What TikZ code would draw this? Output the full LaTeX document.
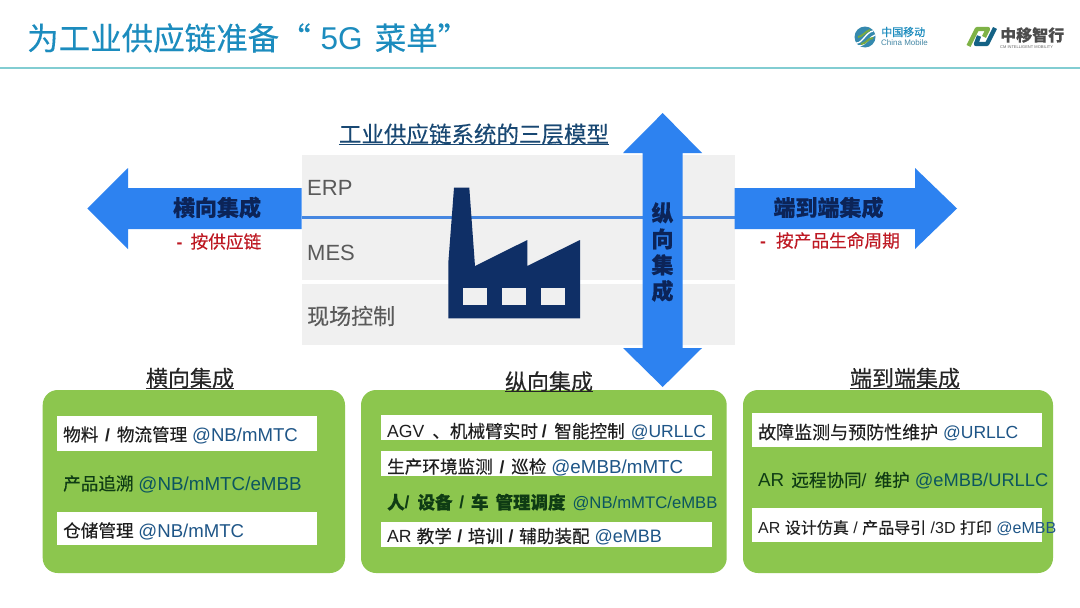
\documentclass[tikz,border=0pt]{standalone}
\usepackage{fontspec}
\setmainfont{Liberation Sans}
\newfontfamily\cjk[FakeBold=0.25]{Noto Sans CJK SC}
\usetikzlibrary{calc}
\definecolor{TitleBlue}{RGB}{28,140,190}
\definecolor{RuleTeal}{RGB}{130,205,210}
\definecolor{ArrowBlue}{RGB}{45,130,240}
\definecolor{LineBlue}{RGB}{70,135,225}
\definecolor{FactoryBlue}{RGB}{15,47,102}
\definecolor{DarkBlue}{RGB}{12,36,88}
\definecolor{BandGray}{RGB}{240,240,240}
\definecolor{LabelGray}{RGB}{90,90,90}
\definecolor{PanelGreen}{RGB}{140,198,78}
\definecolor{NetBlue}{RGB}{30,85,135}
\definecolor{NetTeal}{RGB}{12,85,95}
\definecolor{RowGreen}{RGB}{15,60,20}
\definecolor{AlarmRed}{RGB}{190,25,35}
\newcommand{\zh}[1]{{\cjk #1}}
\newcommand{\net}[2][17.5]{{\fontsize{#1}{20}\selectfont\textcolor{NetBlue}{#2}}}
\newcommand{\nettl}[2][18.8]{{\fontsize{#1}{20}\selectfont\textcolor{NetTeal}{#2}}}
\newcommand{\sep}{\hspace{6.8pt}\textbf{/}\hspace{6.8pt}}
\newcommand{\sepn}{\hspace{5.6pt}\textbf{/}\hspace{5.6pt}}

\begin{document}
\begin{tikzpicture}[
    x=1pt, y=-1pt,
    band/.style={fill=BandGray, draw=none},
    bigarrow/.style={fill=ArrowBlue, draw=none},
    panel/.style={fill=PanelGreen, draw=none, rounded corners=15pt},
    rowbar/.style={fill=white, draw=none},
    rowtext/.style={anchor=west, inner sep=0pt, text=black!88, font=\fontsize{17.6}{20}\selectfont},
    greenrow/.style={rowtext, text=RowGreen},
    layer/.style={anchor=west, inner sep=0pt, text=LabelGray, font=\fontsize{22}{26}\selectfont},
    head/.style={inner sep=0pt, text=black!85, font=\fontsize{22}{26}\selectfont},
    arrowtext/.style={inner sep=0pt, text=DarkBlue, font=\fontsize{22}{26}\selectfont\bfseries},
    note/.style={inner sep=0pt, text=AlarmRed, font=\fontsize{17.7}{20}\selectfont},
]
\useasboundingbox (0,0) rectangle (1080,608);
\fill[white] (0,0) rectangle (1080,608);

% --- cabecera ---
\node[anchor=west, inner sep=0pt, text=TitleBlue, font=\fontsize{31.5}{34}\selectfont] (title) at (27,38)
    {\zh{为工业供应链准备“}\hspace{10pt}5G\hspace{12pt}\zh{菜单”}};
\draw[RuleTeal, line width=1.4pt] (0,68) -- (1080,68);

% logo China Mobile
\fill[TitleBlue!75!gray] (865,37) circle (10.5);
\draw[white, line width=1.3pt] (856,43) .. controls (862,44) and (866,32) .. (873,31);
\draw[white, line width=1.3pt] (858,46) .. controls (866,46) and (870,36) .. (875,35);
\draw[PanelGreen!85!black, line width=2pt] (858,37) .. controls (862,37) and (866,31) .. (870,30);
\draw[PanelGreen!85!black, line width=2pt] (861,44) .. controls (866,44) and (868,38) .. (873,38);
\node[anchor=west, inner sep=0pt, text=TitleBlue, font=\fontsize{11}{12}\selectfont] (cmzh) at (881,32) {\zh{中国移动}};
\node[anchor=west, inner sep=0pt, text=TitleBlue!60!gray, font=\fontsize{8}{10}\selectfont] (cmen) at (881,43) {China Mobile};

% logo zhongyi
\draw[PanelGreen!90!black, line width=4.4pt, line join=round] (968.5,46) -- (977,29) -- (988,29) -- (984,37);
\draw[TitleBlue!70!black, line width=4.4pt, line join=round] (979,36) -- (976,44) -- (987,44) -- (995,28);
\node[anchor=west, inner sep=0pt, text=black!70, font=\fontsize{16}{18}\selectfont\bfseries] (zyzh) at (1000,35) {\zh{中移智行}};
\node[anchor=west, inner sep=0pt, text=black!60, font=\fontsize{4}{5}\selectfont] (zyen) at (1000,47) {CM INTELLIGENT MOBILITY};

% --- modelo de tres capas ---
\node[inner sep=0pt, text=NetBlue!85!black, font=\fontsize{22.5}{26}\selectfont] (model) at (474,134)
    {\zh{工业供应链系统的三层模型}};
\draw[NetBlue!85!black, line width=1pt, yshift=1.5pt] (model.south west) -- (model.south east);

\fill[band] (301.5,155) rectangle (734.5,280);
\fill[band] (301.5,284) rectangle (734.5,345);
\draw[LineBlue, line width=2.4pt] (301.5,217.5) -- (734.5,217.5);

\node[layer] (erp) at (307,188) {ERP};
\node[layer] (mes) at (307,252.5) {MES};
\node[layer] (field) at (307,316) {\zh{现场控制}};

% fabrica
\fill[FactoryBlue] (454,187.7) -- (469.3,187.7) -- (475,266) -- (527.3,240) -- (527.3,266)
    -- (580,240) -- (580,318.3) -- (448.3,318.3) -- (448.3,263) -- cycle;
\foreach \x in {463.3,502,541}
    \fill[BandGray] (\x,287.7) rectangle ++(23.5,17);

% --- flechas ---
\fill[bigarrow] (87.3,208.5) -- (128,168) -- (128,188) -- (301.5,188) -- (301.5,229) -- (128,229) -- (128,249) -- cycle;
\fill[bigarrow] (957,208.5) -- (915,168) -- (915,188) -- (734.5,188) -- (734.5,229) -- (915,229) -- (915,249) -- cycle;
\fill[bigarrow] (662.7,113) -- (702,153) -- (682.7,153) -- (682.7,348) -- (702,348) -- (662.7,387)
    -- (623,348) -- (642.7,348) -- (642.7,153) -- (623,153) -- cycle;

\node[arrowtext] (horiz) at (217,207.5) {\zh{横向集成}};
\node[arrowtext] (e2e) at (828.5,207.5) {\zh{端到端集成}};
\node[arrowtext, align=center] (vert) at (662.5,252) {\zh{纵}\\\zh{向}\\\zh{集}\\\zh{成}};
\node[note] (horiznote) at (219,241.5) {\textbf{-}\hspace{8pt}\zh{按供应链}};
\node[note] (e2enote) at (830,240.5) {\textbf{-}\hspace{10pt}\zh{按产品生命周期}};

% --- paneles ---
\fill[panel] (42.7,390) rectangle (345,573);
\fill[panel] (361,390) rectangle (726.7,573);
\fill[panel] (743,390) rectangle (1053,573);

\node[head] (headA) at (190,378) {\zh{横向集成}};
\node[head] (headB) at (549,381.5) {\zh{纵向集成}};
\node[head] (headC) at (905,378) {\zh{端到端集成}};
\foreach \h in {headA,headB,headC}
    \draw[black!85, line width=1pt, yshift=2pt] (\h.south west) -- (\h.south east);

% panel izquierdo
\fill[rowbar] (56.7,416) rectangle (316.7,450.7);
\fill[rowbar] (56.7,511.7) rectangle (316.7,545);
\node[rowtext] (a1) at (63,435) {\zh{物料}\sep\zh{物流管理} \net[18.6]{@NB/mMTC}};
\node[greenrow] (a2) at (63,484) {\zh{产品追溯} \nettl{@NB/mMTC/eMBB}};
\node[rowtext] (a3) at (63,531) {\zh{仓储管理} \net[18.6]{@NB/mMTC}};

% panel central
\fill[rowbar] (381,415) rectangle (712.3,440);
\fill[rowbar] (381,450.7) rectangle (712.3,476);
\fill[rowbar] (381,521.7) rectangle (712.3,546.7);
\node[rowtext] (b1) at (387,431.5) {AGV\hspace{8pt}\zh{、机械臂实时}\hspace{4pt}\textbf{/}\hspace{7.5pt}\zh{智能控制}\hspace{6pt}\net{@URLLC}};
\node[rowtext] (b2) at (387,467) {\zh{生产环境监测}\sep\zh{巡检} \net[18.8]{@eMBB/mMTC}};
\node[greenrow, font=\fontsize{17.5}{20}\selectfont\bfseries] (b3) at (387,502.5)
    {\zh{人}/\hspace{8pt}\zh{设备}\sep\zh{车}\hspace{7pt}\zh{管理调度}\hspace{7pt}{\mdseries\nettl[16.7]{@NB/mMTC/eMBB}}};
\node[rowtext] (b4) at (387,536.5) {AR\hspace{5pt}\zh{教学}\sepn\zh{培训}\sepn\zh{辅助装配} \net[18]{@eMBB}};

% panel derecho
\fill[rowbar] (752.3,413) rectangle (1041.7,447);
\fill[rowbar] (752.3,508) rectangle (1041.7,541.7);
\node[rowtext, font=\fontsize{18}{20}\selectfont] (c1) at (758,432.5) {\zh{故障监测与预防性维护} \net{@URLLC}};
\node[greenrow] (c2) at (758,480.5) {\fontsize{18.8}{20}\selectfont AR\hspace{7pt}\fontsize{17.6}{20}\selectfont\zh{远程协同}/\hspace{8pt}\zh{维护}\hspace{5pt}\nettl[18.3]{@eMBB/URLLC}};
\node[rowtext, font=\fontsize{16}{20}\selectfont] (c3) at (758,528) {AR \zh{设计仿真} / \zh{产品导引} /3D \zh{打印} \net[16]{@eMBB}};

\end{tikzpicture}
\end{document}
